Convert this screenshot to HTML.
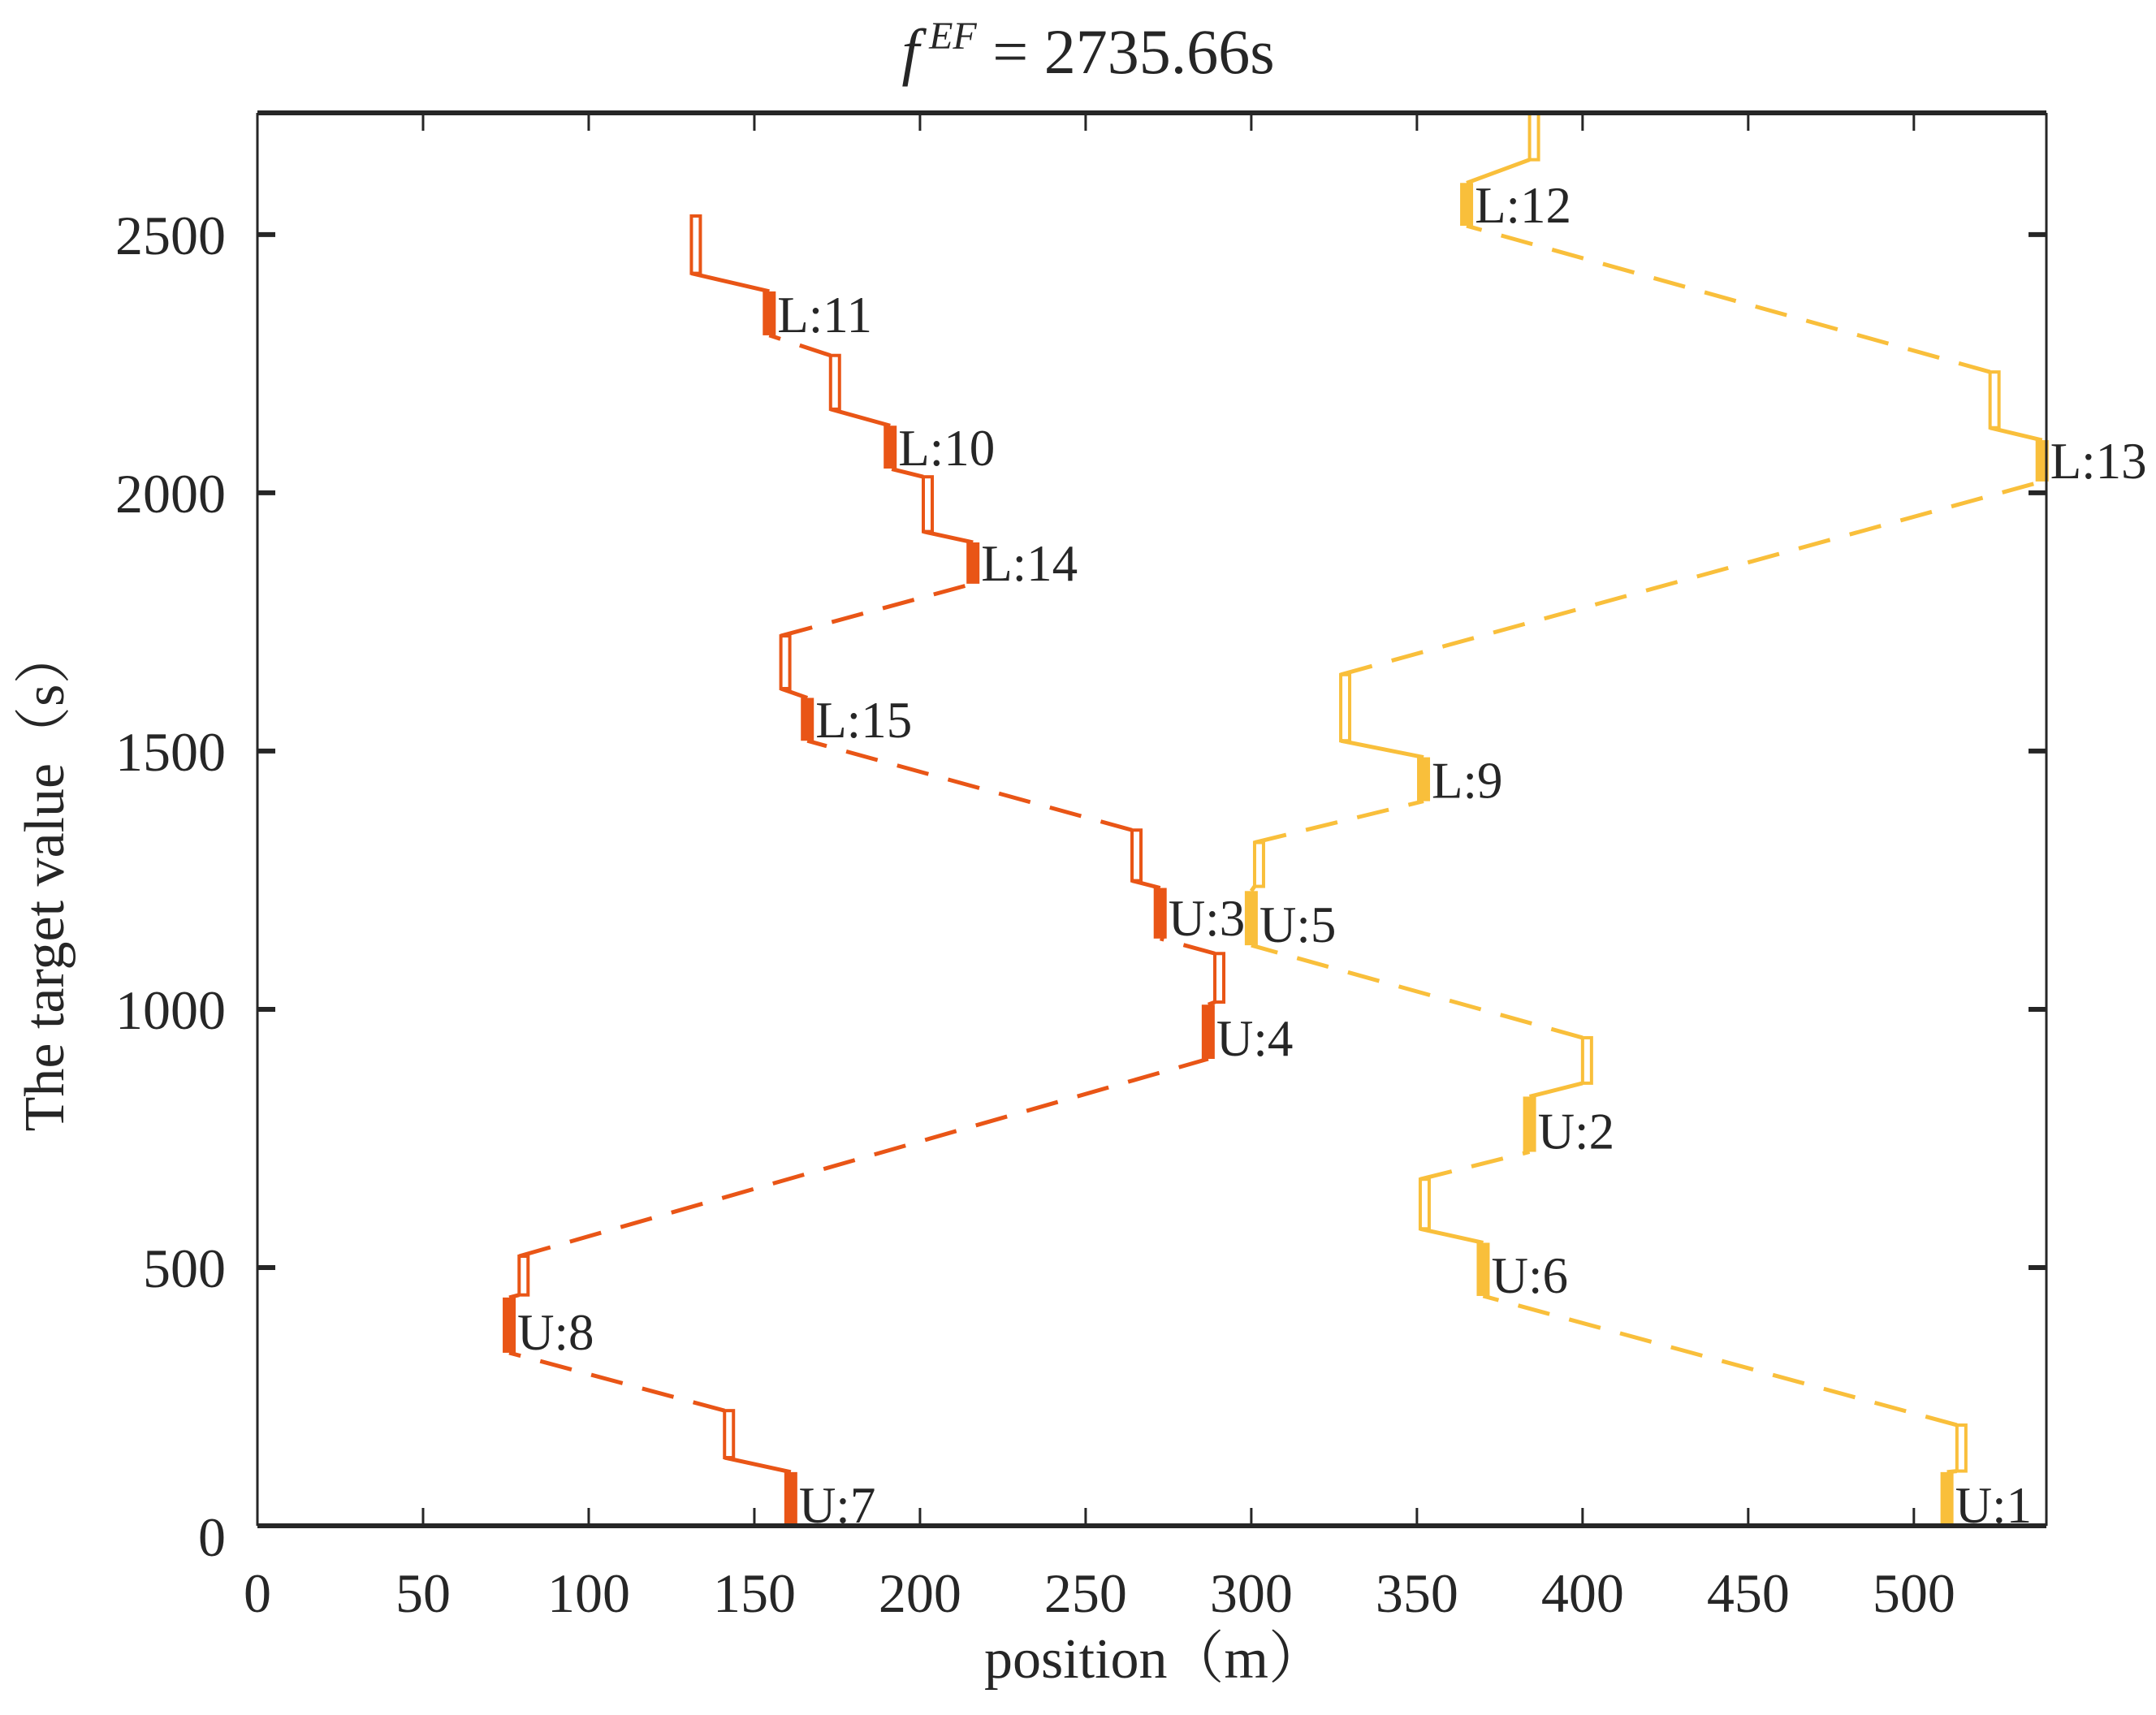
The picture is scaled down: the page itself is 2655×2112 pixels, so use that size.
<!DOCTYPE html>
<html><head><meta charset="utf-8"><style>
html,body{margin:0;padding:0;background:#fff;}
svg{display:block;}
text{font-family:"Liberation Serif","Noto Serif CJK SC",serif;fill:#262626;}
</style></head><body>
<svg id="chart" width="2655" height="2112" viewBox="0 0 2655 2112" xmlns="http://www.w3.org/2000/svg">
<rect x="0" y="0" width="2655" height="2112" fill="#fff"/>
<text x="1340" y="90" font-size="78" text-anchor="middle"><tspan font-style="italic">f</tspan><tspan font-style="italic" font-size="48" dx="12" dy="-30">EF</tspan><tspan dy="30"> = 2735.66s</tspan></text>
<text x="1422" y="2066" font-size="70" text-anchor="middle">position（m）</text>
<text transform="translate(78,1083) rotate(-90)" font-size="70" text-anchor="middle">The target value（s）</text>
<g id="plot"></g>
</svg>
<script>
const xTicks=[0,50,100,150,200,250,300,350,400,450,500];
const yTicks=[0,500,1000,1500,2000,2500];
const xMax=540, yMax=2735.66;
// orange vehicle stops: kind, position, start time, end time, label
const orangeKind=['bar','rect','bar','rect','bar','rect','bar','rect','bar','rect','bar','rect','bar','rect','bar','rect'];
const orangeX=[161,141,76,79,287,289,272.5,264,166,158,216,201,191,173,154.5,131];
const orangeStart=[0,132,335,447,904,1014,1137,1249,1520,1621,1824,1925,2047,2162,2305,2425];
const orangeEnd=[104,223,442,522,1009,1108,1235,1347,1603,1723,1904,2031,2130,2266,2390,2536];
const orangeLabel=['U:7','','U:8','','U:4','','U:3','','L:15','','L:14','','L:10','','L:11',''];
// yellow vehicle stops
const yellowKind=['bar','rect','bar','rect','bar','rect','bar','rect','bar','rect','bar','rect','bar','rect'];
const yellowX=[510,513,370,351,384,400,300,301,352,327,538.7,523,365,384];
const yellowStart=[0,106,445,575,724,857,1124,1238,1403,1520,2022,2126,2517,2645];
const yellowEnd=[104,195,548,671,831,945,1229,1323,1488,1648,2102,2234,2600,2736];
const yellowLabel=['U:1','','U:6','','U:2','','U:5','','L:9','','L:13','','L:12',''];

const L=317,R=2520,T=139,B=1879;
const sx=v=>L+v/xMax*(R-L);
const sy=v=>B-v/yMax*(B-T);
const NS='http://www.w3.org/2000/svg';
const plot=document.getElementById('plot');
function mk(tag,attrs){const e=document.createElementNS(NS,tag);for(const k in attrs)e.setAttribute(k,attrs[k]);plot.appendChild(e);return e;}

function drawSeries(kind,xs,st,en,lab,color,name){
  for(let i=0;i<kind.length;i++){
    if(i>0){
      const dashed=kind[i-1]==='rect';
      const ln=mk('line',{x1:sx(xs[i-1]),y1:sy(en[i-1]),x2:sx(xs[i]),y2:sy(st[i]),stroke:color,'stroke-width':5,'stroke-dasharray':dashed?'40 25':'none'});
      
      
    }
    if(kind[i]==='bar'){
      const b=mk('rect',{x:sx(xs[i])-8,y:sy(en[i]),width:16,height:sy(st[i])-sy(en[i]),fill:color});
      
      
      const t=mk('text',{x:sx(xs[i])+10,y:sy(st[i])-4,'font-size':63});
      t.textContent=lab[i];
      
      
    }else{
      const r=mk('rect',{x:sx(xs[i]),y:sy(en[i]),width:11,height:sy(st[i])-sy(en[i]),fill:'none',stroke:color,'stroke-width':4});
      
      
    }
  }
}
drawSeries(orangeKind,orangeX,orangeStart,orangeEnd,orangeLabel,'#E95516','orange-vehicle');
drawSeries(yellowKind,yellowX,yellowStart,yellowEnd,yellowLabel,'#F9BF3B','yellow-vehicle');

// axes box
const ax=[[L,B,R,B,6],[L,T,R,T,6],[L,T,L,B,3],[R,T,R,B,3]];
ax.forEach(a=>{const l=mk('line',{x1:a[0],y1:a[1],x2:a[2],y2:a[3],stroke:'#262626','stroke-width':a[4]});

});
xTicks.forEach(v=>{
  const x=sx(v);
  const t1=mk('line',{x1:x,y1:B,x2:x,y2:B-22,stroke:'#262626','stroke-width':3});
  
  
  const t2=mk('line',{x1:x,y1:T,x2:x,y2:T+22,stroke:'#262626','stroke-width':3});
  
  
  const tx=mk('text',{x:x,y:1985,'font-size':68,'text-anchor':'middle'});
  tx.textContent=v;
  
  
});
yTicks.forEach(v=>{
  const y=sy(v);
  const t1=mk('line',{x1:L,y1:y,x2:L+22,y2:y,stroke:'#262626','stroke-width':6});
  
  
  const t2=mk('line',{x1:R,y1:y,x2:R-22,y2:y,stroke:'#262626','stroke-width':6});
  
  
  const ty=mk('text',{x:278,y:y+(v===0?37:24),'font-size':68,'text-anchor':'end'});
  ty.textContent=v;
  
  
});
</script>
</body></html>
